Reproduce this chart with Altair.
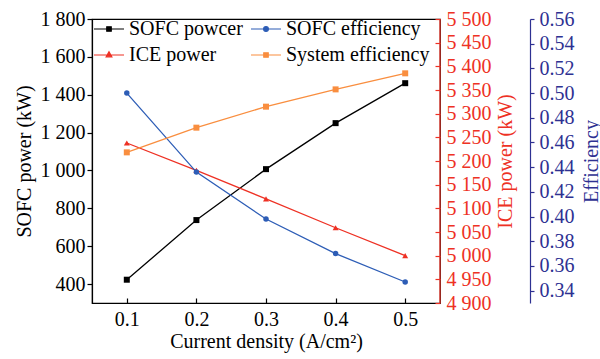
import altair as alt
import pandas as pd

# Operating points (current density, A/cm²)
current_density = [0.1, 0.2, 0.3, 0.4, 0.5]
sofc_power = [423, 738, 1007, 1250, 1461]            # kW, left axis
ice_power = [5238, 5180, 5120, 5059, 5000]           # kW, red right axis
sofc_efficiency = [0.500, 0.436, 0.398, 0.370, 0.347]
system_efficiency = [0.452, 0.472, 0.489, 0.503, 0.516]

# Legend entries, listed column by column for a two-column legend
series_names = ["SOFC powcer", "ICE power", "SOFC efficiency", "System efficiency"]

BLACK = "#000000"
RED = "#ee3124"
BLUE = "#2d5db6"
ORANGE = "#f98e3f"
NAVY = "#2e3192"
series_colors = [BLACK, RED, BLUE, ORANGE]

# Legend glyphs: a short line with the series marker on it (path units span [-1, 1])
legend_glyphs = [
    "M-1,0H1M-0.15,-0.15H0.15V0.15H-0.15Z",
    "M-1,0H1M0,-0.22L0.19,0.12H-0.19Z",
    "M-1,0H1M0.16,0A0.16,0.16,0,1,1,-0.16,0A0.16,0.16,0,1,1,0.16,0Z",
    "M-1,0H1M-0.15,-0.15H0.15V0.15H-0.15Z",
]

PLOT_W, PLOT_H = 348, 284
FONT = "Liberation Serif"
SPACE_THOUSANDS = "replace(format(datum.value, ','), ',', ' ')"

x_enc = alt.X(
    "x:Q",
    scale=alt.Scale(domain=[0.05, 0.55], nice=False, zero=False),
    axis=alt.Axis(
        values=current_density, format=".1f", title="Current density (A/cm²)",
        offset=-5, domain=False, tickSize=5, labelPadding=6, titlePadding=2,
        labelFont=FONT, titleFont=FONT,
        tickColor=BLACK, labelColor=BLACK, titleColor=BLACK,
    ),
)


def frame(values):
    return pd.DataFrame({"x": current_density, "v": values})


def series_layer(df, y_enc, color, shape, size):
    base = alt.Chart(df).encode(x=x_enc, y=y_enc)
    line = base.mark_line(color=color, strokeWidth=1.3)
    pts = base.mark_point(shape=shape, filled=True, size=size, color=color, opacity=1)
    return line + pts


# SOFC power on the left axis
y_power = alt.Y(
    "v:Q",
    scale=alt.Scale(domain=[300, 1800], nice=False, zero=False),
    axis=alt.Axis(
        values=list(range(400, 1801, 200)), labelExpr=SPACE_THOUSANDS,
        title="SOFC power (kW)", orient="left", tickSize=5, labelPadding=2,
        titlePadding=6, labelFont=FONT, titleFont=FONT,
        domainColor=BLACK, tickColor=BLACK, labelColor=BLACK, titleColor=BLACK,
    ),
)
power_layer = series_layer(frame(sofc_power), y_power, BLACK, "square", 36)

# ICE power on the red right axis, ticks pointing into the plot
y_ice = alt.Y(
    "v:Q",
    scale=alt.Scale(domain=[4900, 5500], nice=False, zero=False),
    axis=alt.Axis(
        values=list(range(4900, 5501, 50)), labelExpr=SPACE_THOUSANDS,
        title="ICE power (kW)", orient="right", offset=-5, domain=False, tickSize=5,
        labelPadding=6, titlePadding=4, titleAngle=270, titleBaseline="top",
        labelFont=FONT, titleFont=FONT,
        tickColor=RED, labelColor=RED, titleColor=RED,
    ),
)
ice_layer = series_layer(frame(ice_power), y_ice, RED, "triangle-up", 36)

# Both efficiencies share the outer navy axis
y_eff = alt.Y(
    "v:Q",
    scale=alt.Scale(domain=[0.33, 0.56], nice=False, zero=False),
    axis=alt.Axis(
        values=[round(0.34 + 0.02 * i, 2) for i in range(12)], format=".2f",
        title="Efficiency", orient="right", offset=90, tickSize=4, labelPadding=5,
        titlePadding=7, titleAngle=270, titleBaseline="top",
        labelFont=FONT, titleFont=FONT,
        domainColor=NAVY, tickColor=NAVY, labelColor=NAVY, titleColor=NAVY,
    ),
)
eff_layer = alt.layer(
    series_layer(frame(sofc_efficiency), y_eff, BLUE, "circle", 30),
    series_layer(frame(system_efficiency), y_eff, ORANGE, "square", 36),
)

# Red right-hand edge of the frame (belongs to the ICE axis)
red_edge = alt.Chart(pd.DataFrame({"edge": [0]})).mark_rule(color=RED, strokeWidth=1.2).encode(
    x=alt.value(PLOT_W), y=alt.value(0), y2=alt.value(PLOT_H)
)

# Legend built from the series scales only
legend = alt.Legend(
    title=None, orient="none", legendX=1, legendY=-6, direction="vertical", columns=2, padding=0,
    labelFont=FONT, labelFontSize=20, labelColor=BLACK, labelOffset=4,
    symbolSize=900, symbolStrokeWidth=1.2, symbolOpacity=1,
    rowPadding=-2, columnPadding=5,
)
legend_df = pd.DataFrame({"series": series_names})
legend_layer = alt.Chart(legend_df).transform_filter("false").mark_point(opacity=1).encode(
    fill=alt.Fill("series:N", scale=alt.Scale(domain=series_names, range=series_colors), legend=legend),
    stroke=alt.Stroke("series:N", scale=alt.Scale(domain=series_names, range=series_colors), legend=legend),
    shape=alt.Shape("series:N", scale=alt.Scale(domain=series_names, range=legend_glyphs), legend=legend),
)

chart = (
    alt.layer(power_layer, ice_layer, eff_layer, red_edge, legend_layer)
    .resolve_scale(y="independent")
    .properties(
        width=PLOT_W, height=PLOT_H,
        autosize=alt.AutoSizeParams(type="none"),
        padding={"left": 92, "top": 19, "right": 160, "bottom": 56},
        background="white",
    )
    .configure(font=FONT)
    .configure_view(stroke=BLACK, strokeWidth=1.2)
    .configure_axis(
        labelFont=FONT, titleFont=FONT, labelFontSize=20, titleFontSize=20,
        titleFontWeight="normal", grid=False, domainWidth=1.2, tickWidth=1.2,
    )
    .configure_legend(labelFont=FONT)
)

chart.save("out.html", embed_options={"renderer": "svg", "actions": False})
